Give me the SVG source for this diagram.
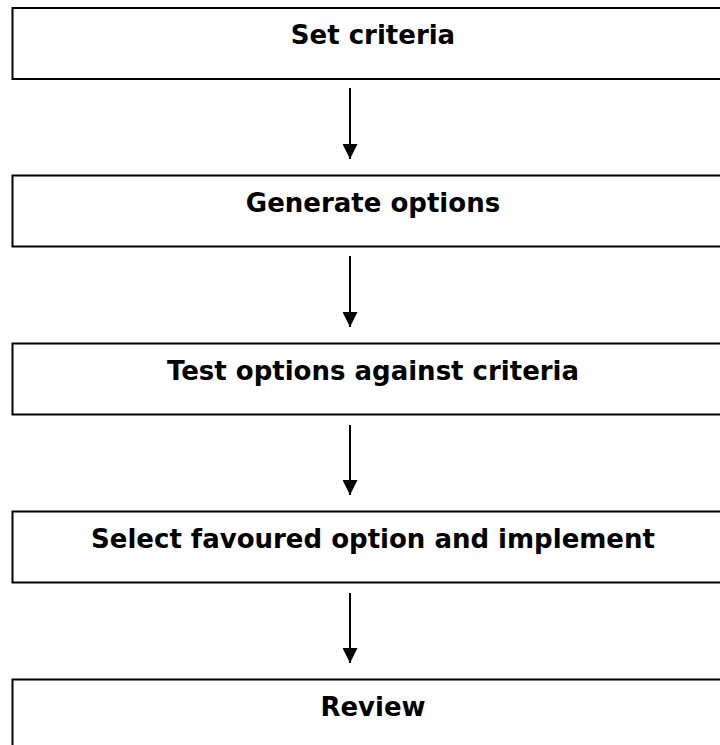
<svg xmlns="http://www.w3.org/2000/svg" width="720" height="745" viewBox="0 0 720 745">
<style>
.box{fill:#ffffff;stroke:#000000;stroke-width:2}
.lbl{font-family:"DejaVu Sans",Verdana,sans-serif;font-weight:bold;font-size:26px;fill:#000000;text-anchor:middle}
.conn{stroke:#000000;stroke-width:2;fill:none}
</style>
<defs>
<marker id="ah" viewBox="0 0 15 15" markerWidth="15" markerHeight="15" markerUnits="userSpaceOnUse" refX="15" refY="7.5" orient="auto">
<path d="M0,0 L15,7.5 L0,15 Z" fill="#000000"/>
</marker>
</defs>
<rect width="720" height="745" fill="#ffffff"/>
<g id="n1"><rect class="box" x="12.5" y="8" width="722" height="71"/><text class="lbl" x="373" y="44">Set criteria</text></g>
<g id="n2"><rect class="box" x="12.5" y="175.5" width="722" height="71"/><text class="lbl" x="373" y="211.5">Generate options</text></g>
<g id="n3"><rect class="box" x="12.5" y="343.5" width="722" height="71"/><text class="lbl" x="373" y="379.5">Test options against criteria</text></g>
<g id="n4"><rect class="box" x="12.5" y="511.5" width="722" height="71"/><text class="lbl" x="373" y="547.5">Select favoured option and implement</text></g>
<g id="n5"><rect class="box" x="12.5" y="679.5" width="722" height="71"/><text class="lbl" x="373" y="716">Review</text></g>
<g id="connectors">
<line class="conn" x1="350" y1="88" x2="350" y2="159" marker-end="url(#ah)"/>
<line class="conn" x1="350" y1="256" x2="350" y2="327" marker-end="url(#ah)"/>
<line class="conn" x1="350" y1="425" x2="350" y2="495" marker-end="url(#ah)"/>
<line class="conn" x1="350" y1="593" x2="350" y2="663" marker-end="url(#ah)"/>
</g>
</svg>
